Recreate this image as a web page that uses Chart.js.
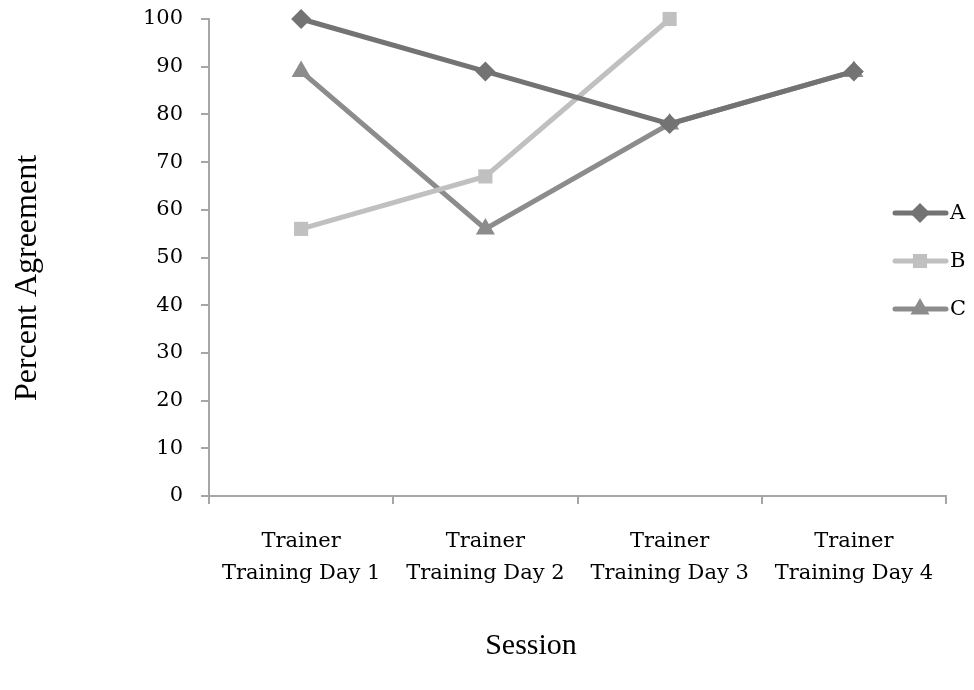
<!DOCTYPE html>
<html>
<head>
<meta charset="utf-8">
<script src="https://cdn.jsdelivr.net/npm/chart.js@4"></script>
<style>
  html, body { margin: 0; padding: 0; background: #fff; }
  #wrap { width: 974px; height: 690px; position: relative; }
</style>
</head>
<body>
<div id="wrap"><canvas id="agreementChart"></canvas></div>
<script>
// Chart data
const sessions = [
    ['Trainer', 'Training Day 1'],
    ['Trainer', 'Training Day 2'],
    ['Trainer', 'Training Day 3'],
    ['Trainer', 'Training Day 4']
];
const seriesA = [100, 89, 78, 89];
const seriesB = [56, 67, 100, null];
const seriesC = [89, 56, 78, 89];
const yTicks = [0, 10, 20, 30, 40, 50, 60, 70, 80, 90, 100];

const axisColor = '#a6a6a6';
const tickFont = { family: 'DejaVu Serif', size: 21 };

// Draws the right-hand legend (line + marker) and both axis titles
const extrasPlugin = {
    id: 'extras',
    afterDraw: function(chart) {
        const ctx = chart.ctx;
        ctx.save();

        // legend
        chart.data.datasets.forEach(function(ds, i) {
            const y = 213 + i * 48;
            ctx.strokeStyle = ds.borderColor;
            ctx.lineWidth = 5;
            ctx.lineCap = 'round';
            ctx.beginPath();
            ctx.moveTo(895, y);
            ctx.lineTo(946, y);
            ctx.stroke();
            ctx.fillStyle = ds.pointBackgroundColor;
            Chart.helpers.drawPoint(ctx, {
                pointStyle: ds.pointStyle,
                radius: ds.pointRadius,
                rotation: 0,
                borderWidth: 0
            }, 920, y);
            ctx.fillStyle = '#000';
            ctx.font = '21px "DejaVu Serif"';
            ctx.textAlign = 'left';
            ctx.textBaseline = 'middle';
            ctx.fillText(ds.label, 950, y + 1);
        });

        // axis titles
        ctx.fillStyle = '#000';
        ctx.font = '30px "Liberation Serif"';
        ctx.textAlign = 'center';
        ctx.textBaseline = 'middle';
        ctx.fillText('Session', 531, 646);

        ctx.font = '32px "Liberation Serif"';
        ctx.translate(28, 278);
        ctx.rotate(-Math.PI / 2);
        ctx.fillText('Percent Agreement', 0, 0);
        ctx.restore();
    }
};

const ctx = document.getElementById('agreementChart').getContext('2d');
const agreementChart = new Chart(ctx, {
    type: 'line',
    data: {
        labels: sessions,
        datasets: [
            {
                label: 'A',
                data: seriesA,
                borderColor: '#737373',
                backgroundColor: '#737373',
                pointBackgroundColor: '#737373',
                pointBorderWidth: 0,
                borderWidth: 5,
                pointStyle: 'rectRot',
                pointRadius: 10,
                pointHoverRadius: 10,
                clip: false
            },
            {
                label: 'B',
                data: seriesB,
                borderColor: '#c0c0c0',
                backgroundColor: '#c0c0c0',
                pointBackgroundColor: '#c0c0c0',
                pointBorderWidth: 0,
                borderWidth: 5,
                pointStyle: 'rect',
                pointRadius: 10,
                pointHoverRadius: 10,
                clip: false
            },
            {
                label: 'C',
                data: seriesC,
                borderColor: '#8c8c8c',
                backgroundColor: '#8c8c8c',
                pointBackgroundColor: '#8c8c8c',
                pointBorderWidth: 0,
                borderWidth: 5,
                pointStyle: 'triangle',
                pointRadius: 11,
                pointHoverRadius: 11,
                clip: false
            }
        ]
    },
    options: {
        responsive: true,
        maintainAspectRatio: false,
        animation: false,
        layout: {
            padding: { top: 19, right: 28, bottom: 0, left: 0 }
        },
        plugins: {
            legend: { display: false },
            tooltip: { enabled: false }
        },
        scales: {
            x: {
                offset: true,
                grid: {
                    display: true,
                    offset: true,
                    drawOnChartArea: false,
                    drawTicks: true,
                    tickLength: 8,
                    color: axisColor,
                    lineWidth: 2
                },
                border: { color: axisColor, width: 2 },
                ticks: {
                    color: '#000',
                    font: { family: 'DejaVu Serif', size: 21, lineHeight: 1.5 },
                    padding: 22,
                    maxRotation: 0,
                    autoSkip: false
                },
                afterFit: function(scale) {
                    scale.height = 194;
                }
            },
            y: {
                min: 0,
                max: 100,
                afterBuildTicks: function(scale) {
                    scale.ticks = yTicks.map(function(v) { return { value: v }; });
                },
                grid: {
                    display: true,
                    drawOnChartArea: false,
                    drawTicks: true,
                    tickLength: 8,
                    color: axisColor,
                    lineWidth: 2
                },
                border: { color: axisColor, width: 2 },
                ticks: {
                    color: '#000',
                    font: tickFont,
                    padding: 18
                },
                afterFit: function(scale) {
                    scale.width = 209;
                    scale.paddingTop = 0;
                    scale.paddingBottom = 0;
                }
            }
        }
    },
    plugins: [extrasPlugin]
});
</script>
</body>
</html>
